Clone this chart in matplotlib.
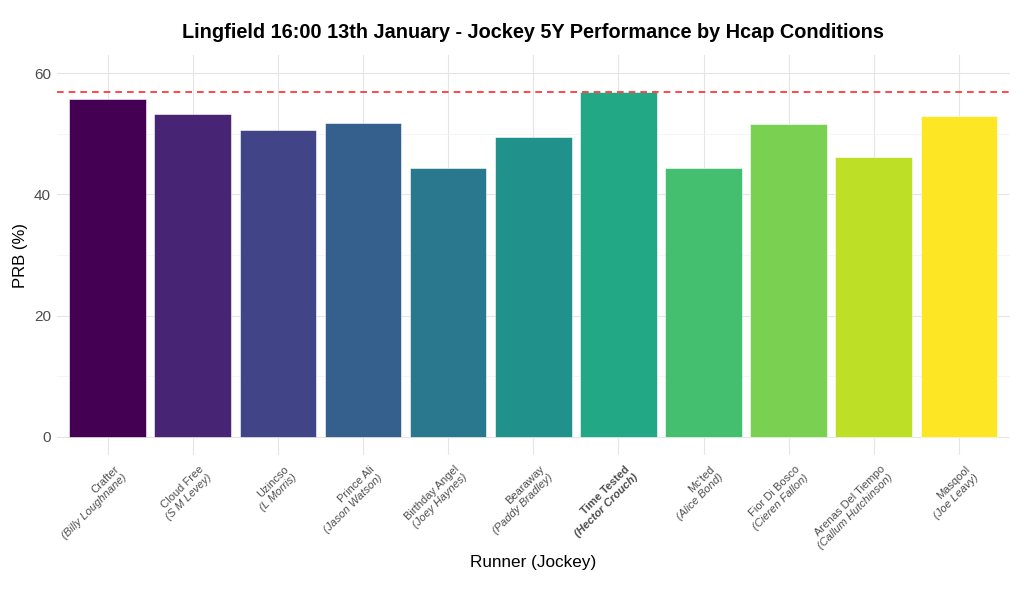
import numpy as np
import matplotlib
matplotlib.use("Agg")
from matplotlib import pyplot as plt
from matplotlib.ticker import MultipleLocator

plt.rcParams['font.family'] = ['Liberation Sans', 'DejaVu Sans']

# ======================================== DATOS ========================================

runners = ["Crafter", "Cloud Free", "Uzincso", "Prince Ali", "Birthday Angel", "Bearaway",
           "Time Tested", "Mc'ted", "Fior Di Bosco", "Arenas Del Tiempo", "Masqool"]
jockeys = ["Billy Loughnane", "S M Levey", "L Morris", "Jason Watson", "Joey Haynes",
           "Paddy Bradley", "Hector Crouch", "Alice Bond", "Cieren Fallon",
           "Callum Hutchinson", "Joe Leavy"]
prb = [55.7, 53.2, 50.6, 51.8, 44.3, 49.4, 56.9, 44.4, 51.6, 46.1, 52.9]
highlight = "Time Tested"
ref_line = 56.9

# ======================================== GRAFICO ========================================

fig = plt.figure(figsize=(10.24, 6.14), dpi=100)
ax = fig.add_axes([56.5 / 1024, (614 - 455) / 614, 953.5 / 1024, 400 / 614])

n = len(runners)
x = np.arange(n)
colores = plt.cm.viridis(np.linspace(0, 1, n))

ax.bar(x, prb, width=0.9, color=colores, edgecolor="white", linewidth=0.4, zorder=2)
ax.axhline(ref_line, color="#ff2a2a", linestyle=(0, (4, 3)), linewidth=1.2, zorder=3)

ax.set_xlim(-0.6, n - 0.4)
ax.set_ylim(-3.0, 63.0)
ax.yaxis.set_major_locator(MultipleLocator(20))
ax.yaxis.set_minor_locator(MultipleLocator(10))
ax.set_xticks(x)
ax.set_xticklabels([])
ax.grid(True, which="major", color="#e5e5e5", linewidth=0.8, zorder=0)
ax.grid(True, which="minor", axis="y", color="#f2f2f2", linewidth=0.5, zorder=0)
ax.tick_params(which="both", length=0)
ax.tick_params(axis="y", labelsize=11, labelcolor="#4d4d4d", pad=4)
for s in ax.spines.values():
    s.set_visible(False)

# etiquetas de dos lineas (nombre / jockey en cursiva)
trans = ax.get_xaxis_transform()
for i, (r, j) in enumerate(zip(runners, jockeys)):
    peso = "bold" if r == highlight else "normal"
    ax.annotate(r, xy=(i, 0), xycoords=trans, xytext=(7, -9), textcoords="offset points",
                rotation=45, rotation_mode="anchor", ha="right", va="center",
                fontsize=8, color="#4d4d4d", fontweight=peso)
    ax.annotate(f"({j})", xy=(i, 0), xycoords=trans, xytext=(12.8, -14.8),
                textcoords="offset points", rotation=45, rotation_mode="anchor",
                ha="right", va="center", fontsize=8, color="#4d4d4d",
                fontstyle="italic", fontweight=peso)

ax.set_title("Lingfield 16:00 13th January - Jockey 5Y Performance by Hcap Conditions",
             fontsize=14.3, fontweight="bold", pad=12)
ax.set_ylabel("PRB (%)", fontsize=12)
fig.text(533 / 1024, 1 - 562 / 614, "Runner (Jockey)", ha="center", va="center", fontsize=12.3)

fig.savefig("out.png", dpi=100, facecolor="white")
